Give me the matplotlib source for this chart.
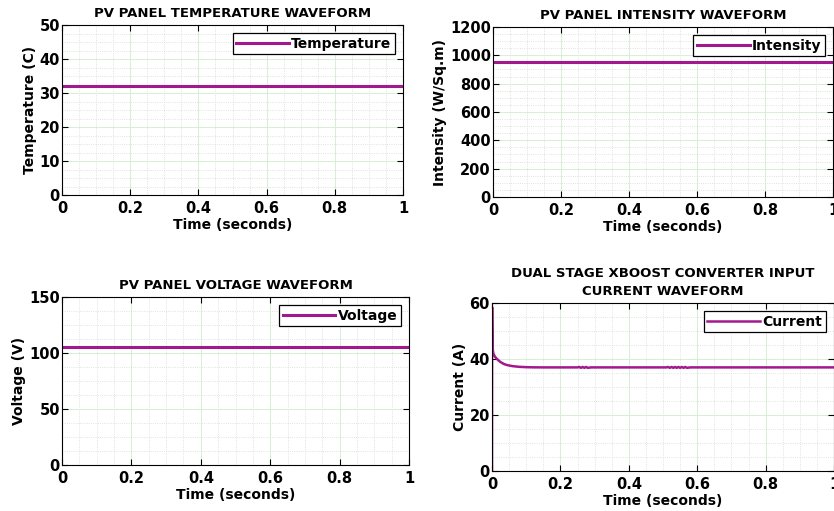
import matplotlib.pyplot as plt
import numpy as np
from matplotlib.ticker import AutoMinorLocator

plt.rcParams['font.family'] = 'DejaVu Sans'
plt.rcParams['font.weight'] = 'bold'

LINE_COLOR = '#a2198e'

# constant PV panel signals
t_const = [0.0, 1.0]
temperature = [32.0, 32.0]
intensity = [950.0, 950.0]
voltage = [105.0, 105.0]

# converter input current
t_current = [0.0, 0.0004, 0.0008, 0.0015, 0.0025, 0.004, 0.006, 0.009, 0.013, 0.018,
             0.025, 0.035, 0.045, 0.06, 0.08, 0.1, 0.12, 0.15, 0.2, 0.25,
             0.255, 0.26, 0.265, 0.27, 0.275, 0.28, 0.29, 0.4, 0.51, 0.515,
             0.52, 0.525, 0.53, 0.535, 0.54, 0.545, 0.55, 0.555, 0.56, 0.565,
             0.57, 0.58, 0.7, 0.85, 1.0]
current = [0.0, 58.5, 52.0, 46.0, 43.0, 42.0, 41.4, 40.8, 40.2, 39.6,
           38.9, 38.2, 37.8, 37.45, 37.2, 37.08, 37.02, 37.0, 37.0, 37.0,
           37.15, 36.85, 37.15, 36.85, 37.15, 36.85, 37.0, 37.0, 37.0, 37.15,
           36.85, 37.15, 36.85, 37.15, 36.85, 37.15, 36.85, 37.15, 36.85, 37.15,
           36.85, 37.0, 37.0, 37.0, 37.0]


def style_axes(ax, title, ylabel, ylim, yticks):
	ax.set_xlim(0, 1)
	ax.set_ylim(*ylim)
	ax.set_xticks([0, 0.2, 0.4, 0.6, 0.8, 1])
	ax.set_xticklabels(['0', '0.2', '0.4', '0.6', '0.8', '1'])
	ax.set_yticks(yticks)
	ax.xaxis.set_minor_locator(AutoMinorLocator(4))
	ax.yaxis.set_minor_locator(AutoMinorLocator(4))
	ax.tick_params(which='both', direction='in', top=True, right=True)
	ax.tick_params(which='major', length=4, labelsize=10.5)
	ax.tick_params(axis='x', which='major', pad=4)
	ax.tick_params(axis='y', which='major', pad=1.5)
	ax.tick_params(which='minor', length=0)
	for lab in ax.get_xticklabels() + ax.get_yticklabels():
		lab.set_fontweight('bold')
	ax.grid(True, which='major', color='#d6efd6', linewidth=0.7)
	ax.grid(True, which='minor', color='#d8d8d8', linestyle=':', linewidth=0.6)
	ax.set_axisbelow(True)
	ax.set_title(title, fontsize=9.5, fontweight='bold', pad=6, linespacing=1.45)
	ax.set_xlabel('Time (seconds)', fontsize=10, fontweight='bold', labelpad=2)
	ax.set_ylabel(ylabel, fontsize=10, fontweight='bold', labelpad=2)
	for s in ax.spines.values():
		s.set_linewidth(0.8)


def add_legend(ax):
	leg = ax.legend(loc='upper right', fancybox=False, framealpha=1,
		edgecolor='black', handlelength=3.8, handletextpad=0.15,
		borderpad=0.25, borderaxespad=0.6, prop={'weight': 'bold', 'size': 10})
	leg.get_frame().set_linewidth(0.9)


fig = plt.figure(figsize=(8.34, 5.11), dpi=100)
W, H = 834, 511


def add_ax(l, r, t, b):
	return fig.add_axes([l / W, 1 - b / H, (r - l) / W, (b - t) / H])


ax1 = add_ax(62, 403, 25, 195)
ax1.plot(t_const, temperature, color=LINE_COLOR, linewidth=2.2, label='Temperature')
style_axes(ax1, 'PV PANEL TEMPERATURE WAVEFORM', 'Temperature (C)', (0, 50),
	[0, 10, 20, 30, 40, 50])
add_legend(ax1)

ax2 = add_ax(493, 833, 27, 197)
ax2.plot(t_const, intensity, color=LINE_COLOR, linewidth=2.2, label='Intensity')
style_axes(ax2, 'PV PANEL INTENSITY WAVEFORM', 'Intensity (W/Sq.m)', (0, 1200),
	[0, 200, 400, 600, 800, 1000, 1200])
add_legend(ax2)

ax3 = add_ax(62, 409, 297, 465)
ax3.plot(t_const, voltage, color=LINE_COLOR, linewidth=2.2, label='Voltage')
style_axes(ax3, 'PV PANEL VOLTAGE WAVEFORM', 'Voltage (V)', (0, 150),
	[0, 50, 100, 150])
add_legend(ax3)

ax4 = add_ax(492, 834, 303, 471)
ax4.plot(t_current, current, color=LINE_COLOR, linewidth=1.8, label='Current')
style_axes(ax4, 'DUAL STAGE XBOOST CONVERTER INPUT\nCURRENT WAVEFORM', 'Current (A)',
	(0, 60), [0, 20, 40, 60])
add_legend(ax4)

fig.savefig('out.png', dpi=100, facecolor='white')
